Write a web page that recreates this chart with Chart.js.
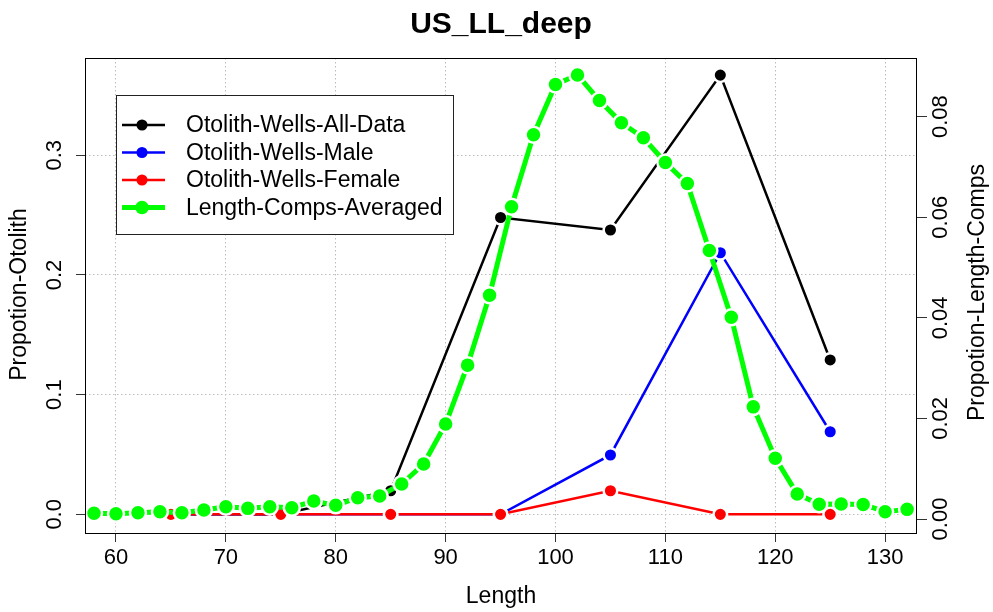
<!DOCTYPE html>
<html>
<head>
<meta charset="utf-8">
<title>US_LL_deep</title>
<script src="https://cdn.jsdelivr.net/npm/chart.js"></script>
<style>
    html, body { margin: 0; padding: 0; background: #fff; }
    #wrap { width: 993px; height: 612px; }
</style>
</head>
<body>
<div id="wrap"><canvas id="chart" width="993" height="612"></canvas></div>
<script>
// otolith samples, left axis
var otoLengths = [65, 75, 85, 95, 105, 115, 125];
var allData    = [0, 0, 0.0197, 0.248, 0.2376, 0.367, 0.129];
var maleData   = [0, 0, 0, 0, 0.0496, 0.2186, 0.069];
var femaleData = [0, 0, 0, 0, 0.0197, 0, 0];

// averaged length comps, right axis
var compLengths = [58, 60, 62, 64, 66, 68, 70, 72, 74, 76, 78, 80, 82, 84, 86, 88, 90, 92, 94,
                   96, 98, 100, 102, 104, 106, 108, 110, 112, 114, 116, 118, 120, 122, 124, 126,
                   128, 130, 132, 134];
var compAvg = [0.00113, 0.00105, 0.00126, 0.00146, 0.00126, 0.00179, 0.00245, 0.00212, 0.00245,
               0.00225, 0.00358, 0.00272, 0.00424, 0.00457, 0.00696, 0.01094, 0.01889, 0.0306,
               0.0445, 0.0621, 0.0764, 0.0864, 0.0883, 0.0832, 0.0788, 0.0758, 0.0709, 0.0667,
               0.0534, 0.0401, 0.0223, 0.0121, 0.00497, 0.00292, 0.00298, 0.0029, 0.00146,
               0.00192, 0.0023];

// tick labels
var xTicks = [60, 70, 80, 90, 100, 110, 120, 130];
var leftTicks = [0, 0.1, 0.2, 0.3];
var rightTicks = [0, 0.02, 0.04, 0.06, 0.08];

var FONT = 'Liberation Sans, Arial, sans-serif';

function pts(xs, ys) {
    return xs.map(function (x, i) { return { x: x, y: ys[i] }; });
}

function series(label, xs, ys, color, width, r, axis, order) {
    return {
        label: label,
        data: pts(xs, ys),
        yAxisID: axis,
        order: order,
        borderColor: color,
        borderWidth: width,
        backgroundColor: color,
        pointBackgroundColor: color,
        pointBorderColor: '#ffffff',
        pointBorderWidth: 2.5,
        pointRadius: r,
        pointHoverRadius: r,
        tension: 0,
        clip: 0
    };
}

// box, legend, rotated y labels, titles
var decor = {
    id: 'decor',
    afterDatasetsDraw: function (chart) {
        var ctx = chart.ctx, ca = chart.chartArea;
        ctx.save();

        // plot box
        ctx.strokeStyle = '#000';
        ctx.lineWidth = 1;
        ctx.strokeRect(Math.round(ca.left) + 0.5, Math.round(ca.top) + 0.5,
                       Math.round(ca.right - ca.left) - 1, Math.round(ca.bottom - ca.top));

        // legend
        var lx = ca.left + 31, ly = ca.top + 37, lw = 337, lh = 139;
        ctx.fillStyle = '#fff';
        ctx.fillRect(lx, ly, lw, lh);
        ctx.strokeStyle = '#222';
        ctx.strokeRect(lx + 0.5, ly + 0.5, lw, lh);
        ctx.font = '23px ' + FONT;
        ctx.textBaseline = 'middle';
        ctx.textAlign = 'left';
        chart.data.datasets.forEach(function (ds, i) {
            var y = ly + 30 + i * 27.5;
            ctx.strokeStyle = ds.borderColor;
            ctx.lineWidth = ds.borderWidth;
            ctx.beginPath();
            ctx.moveTo(lx + 6, y);
            ctx.lineTo(lx + 49, y);
            ctx.stroke();
            ctx.fillStyle = ds.borderColor;
            ctx.beginPath();
            ctx.arc(lx + 26, y, ds.pointRadius - 1.25, 0, Math.PI * 2);
            ctx.fill();
            ctx.fillStyle = '#000';
            ctx.fillText(ds.label, lx + 70, y + 1);
        });

        // rotated y tick labels
        ctx.font = '22px ' + FONT;
        ctx.fillStyle = '#000';
        ctx.textAlign = 'center';
        ctx.textBaseline = 'middle';
        var yl = chart.scales.y, yr = chart.scales.y2;
        yl.ticks.forEach(function (t) {
            ctx.save();
            ctx.translate(ca.left - 30, yl.getPixelForValue(t.value));
            ctx.rotate(-Math.PI / 2);
            ctx.fillText(t.value.toFixed(1), 0, 0);
            ctx.restore();
        });
        yr.ticks.forEach(function (t) {
            ctx.save();
            ctx.translate(ca.right + 24, yr.getPixelForValue(t.value));
            ctx.rotate(-Math.PI / 2);
            ctx.fillText(t.value.toFixed(2), 0, 0);
            ctx.restore();
        });

        // titles
        var cx = (ca.left + ca.right) / 2, cy = (ca.top + ca.bottom) / 2;
        ctx.textBaseline = 'alphabetic';
        ctx.font = 'bold 30px ' + FONT;
        ctx.fillText('US_LL_deep', cx, 33);
        ctx.font = '23px ' + FONT;
        ctx.fillText('Length', cx, 603);
        ctx.save();
        ctx.translate(26, cy - 1);
        ctx.rotate(-Math.PI / 2);
        ctx.fillText('Propotion-Otolith', 0, 0);
        ctx.restore();
        ctx.save();
        ctx.translate(984, cy - 3);
        ctx.rotate(-Math.PI / 2);
        ctx.fillText('Propotion-Length-Comps', 0, 0);
        ctx.restore();

        ctx.restore();
    }
};

var gridDots = {
    color: '#bdbdbd',
    lineWidth: 1,
    drawTicks: true,
    tickLength: 9,
    tickColor: '#333',
    tickWidth: 1
};

new Chart(document.getElementById('chart'), {
    type: 'line',
    data: {
        datasets: [
            series('Otolith-Wells-All-Data', otoLengths, allData, '#000000', 2.5, 6.8, 'y', 4),
            series('Otolith-Wells-Male', otoLengths, maleData, '#0000ff', 2.5, 6.8, 'y', 3),
            series('Otolith-Wells-Female', otoLengths, femaleData, '#ff0000', 2.5, 6.8, 'y', 2),
            series('Length-Comps-Averaged', compLengths, compAvg, '#00ff00', 5, 8, 'y2', 1)
        ]
    },
    options: {
        responsive: false,
        animation: false,
        layout: { padding: { top: 58, left: 0, right: 0, bottom: 0 } },
        plugins: {
            legend: { display: false },
            title: { display: false },
            tooltip: { enabled: false }
        },
        scales: {
            x: {
                type: 'linear',
                position: 'bottom',
                min: 57.18,
                max: 132.9,
                afterBuildTicks: function (s) { s.ticks = xTicks.map(function (v) { return { value: v }; }); },
                afterFit: function (s) { s.height = 79; },
                grid: gridDots,
                border: { display: false, dash: [1.5, 2.5] },
                ticks: {
                    color: '#000',
                    font: { family: FONT, size: 22 },
                    padding: 3,
                    maxRotation: 0,
                    callback: function (v) { return v; }
                }
            },
            y: {
                type: 'linear',
                position: 'left',
                min: -0.0156,
                max: 0.3813,
                afterBuildTicks: function (s) { s.ticks = leftTicks.map(function (v) { return { value: v }; }); },
                afterFit: function (s) { s.width = 85; },
                grid: gridDots,
                border: { display: false, dash: [1.5, 2.5] },
                ticks: { display: false }
            },
            y2: {
                type: 'linear',
                position: 'right',
                min: -0.00278,
                max: 0.09167,
                afterBuildTicks: function (s) { s.ticks = rightTicks.map(function (v) { return { value: v }; }); },
                afterFit: function (s) { s.width = 76; },
                grid: { drawOnChartArea: false, drawTicks: true, tickLength: 10, tickColor: '#333', tickWidth: 1 },
                border: { display: false },
                ticks: { display: false }
            }
        }
    },
    plugins: [decor]
});
</script>
</body>
</html>
